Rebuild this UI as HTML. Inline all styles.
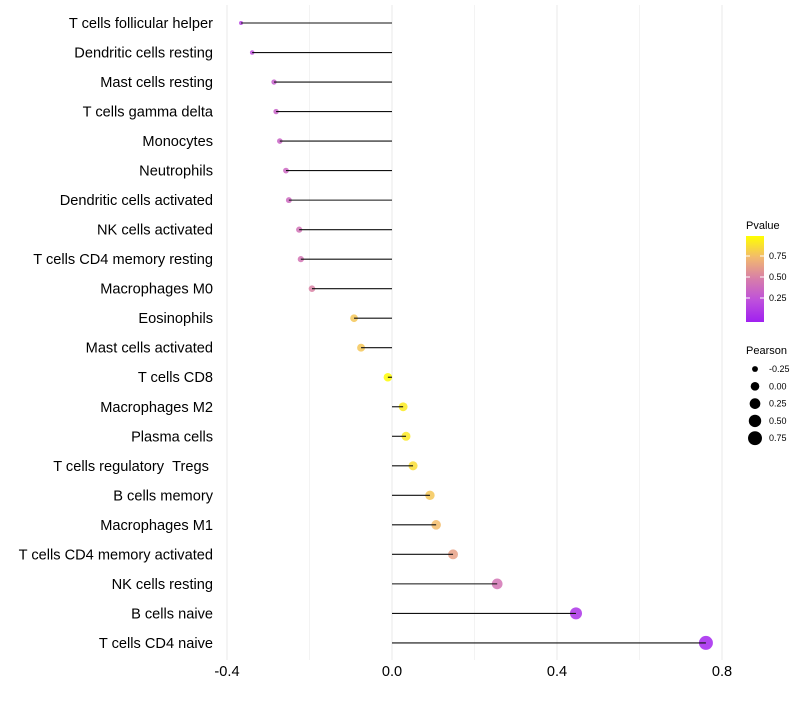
<!DOCTYPE html>
<html><head><meta charset="utf-8"><style>
body{margin:0;background:#fff;font-family:"Liberation Sans",sans-serif;}
</style></head><body>
<svg id="chart" width="800" height="700" xmlns="http://www.w3.org/2000/svg"></svg>
<script>
const categories=["T cells follicular helper","Dendritic cells resting","Mast cells resting","T cells gamma delta","Monocytes","Neutrophils","Dendritic cells activated","NK cells activated","T cells CD4 memory resting","Macrophages M0","Eosinophils","Mast cells activated","T cells CD8","Macrophages M2","Plasma cells","T cells regulatory\u00a0\u00a0Tregs\u00a0","B cells memory","Macrophages M1","T cells CD4 memory activated","NK cells resting","B cells naive","T cells CD4 naive"];
const pearson=[-0.366,-0.339,-0.286,-0.281,-0.272,-0.257,-0.250,-0.225,-0.221,-0.194,-0.092,-0.075,-0.010,0.027,0.034,0.051,0.092,0.107,0.148,0.255,0.446,0.761];
const pvalue=[0.18,0.25,0.33,0.35,0.36,0.38,0.39,0.44,0.45,0.52,0.8,0.8,0.99,0.93,0.92,0.88,0.8,0.76,0.65,0.45,0.1,0.03];
const xTicks=[-0.4,0,0.4,0.8];
const xTickLabels=["-0.4","0.0","0.4","0.8"];
const gridMinor=[-0.2,0.2,0.6];
const sizeLegend=[-0.25,0,0.25,0.5,0.75];
const sizeLegendLabels=["-0.25","0.00","0.25","0.50","0.75"];
const colorTicks=[0.25,0.5,0.75];

const NS="http://www.w3.org/2000/svg";
const svg=document.getElementById('chart');
const x=v=>392+v*412.5;
const y=i=>23+i*29.52;
const r=v=>Math.sqrt(Math.max(1,4+39.9*(v+0.366)));
const stops=[[0,[160,32,240]],[0.25,[190,80,220]],[0.5,[215,125,170]],[0.75,[242,185,110]],[1,[255,255,0]]];
function col(p){for(let k=0;k<stops.length-1;k++){const[a0,a]=stops[k],[b0,b]=stops[k+1];
 if(p<=b0||k==stops.length-2){const t=Math.max(0,Math.min(1,(p-a0)/(b0-a0)));return `rgb(${a.map((q,j)=>Math.round(q+(b[j]-q)*t)).join(',')})`;}}}
function mk(t,at){const e=document.createElementNS(NS,t);for(const k in at)e.setAttribute(k,at[k]);svg.appendChild(e);return e;}

gridMinor.concat(xTicks).forEach(v=>{const g=mk('line',{x1:x(v),x2:x(v),y1:5,y2:660,stroke:'#ebebeb','stroke-width':xTicks.includes(v)?1.1:0.6});

});

categories.forEach((c,i)=>{
 const t=mk('text',{x:213,y:y(i)+5,'text-anchor':'end','font-size':14.6,fill:'#000'});t.textContent=c;
 
 
 const p=mk('circle',{cx:x(pearson[i]),cy:y(i),r:r(pearson[i]),fill:col(pvalue[i]),'fill-opacity':0.85});
 
 
 const l=mk('line',{x1:x(0),x2:x(pearson[i]),y1:y(i),y2:y(i),stroke:'#111','stroke-width':1.1});
 
 
});

xTicks.forEach((v,i)=>{const t=mk('text',{x:x(v),y:676,'text-anchor':'middle','font-size':14.6,fill:'#000'});t.textContent=xTickLabels[i];

});

const defs=mk('defs',{});
const lg=document.createElementNS(NS,'linearGradient');lg.setAttribute('id','pg');lg.setAttribute('x1',0);lg.setAttribute('x2',0);lg.setAttribute('y1',1);lg.setAttribute('y2',0);
[0,0.25,0.5,0.75,1].forEach(s=>{const st=document.createElementNS(NS,'stop');st.setAttribute('offset',s);st.setAttribute('stop-color',col(s));lg.appendChild(st);});
defs.appendChild(lg);
const lt=mk('text',{x:746,y:229,'font-size':11});lt.textContent='Pvalue';


const bar=mk('rect',{x:746,y:236,width:18,height:86,fill:'url(#pg)'});


colorTicks.forEach(v=>{const yy=319-v*84;
 mk('line',{x1:746,x2:750,y1:yy,y2:yy,stroke:'#fff'});mk('line',{x1:760,x2:764,y1:yy,y2:yy,stroke:'#fff'});
 const t=mk('text',{x:769,y:yy+3,'font-size':9});t.textContent=v.toFixed(2);
 
 });
const st2=mk('text',{x:746,y:354,'font-size':11});st2.textContent='Pearson';


sizeLegend.forEach((v,i)=>{const yy=369+i*17.3;
 const c=mk('circle',{cx:755,cy:yy,r:r(v),fill:'#000'});
 
 
 const t=mk('text',{x:769,y:yy+3,'font-size':9});t.textContent=sizeLegendLabels[i];
 
 });
</script>
</body></html>
